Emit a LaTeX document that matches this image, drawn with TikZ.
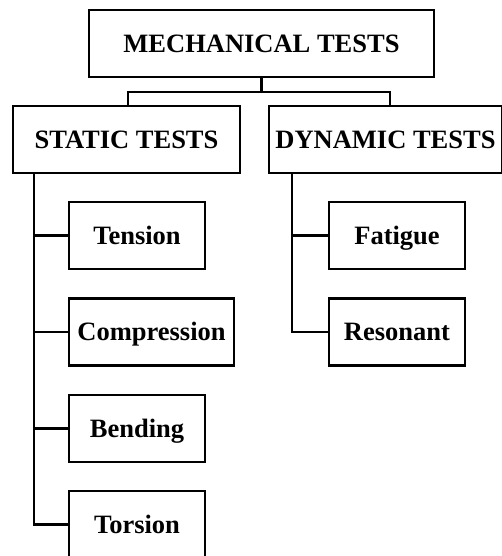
\documentclass[tikz,border=0pt]{standalone}
\usepackage{fontspec}
\setmainfont{Liberation Serif}
\usetikzlibrary{positioning}
\begin{document}
\begin{tikzpicture}
	[x=1pt,y=-1pt,%
	testbox/.style={rectangle, draw=black, line width=2.5pt, inner sep=0pt, minimum height=67pt, text height=17.5pt, text depth=0pt, font=\fontsize{26.5}{30}\selectfont\bfseries},%
	link/.style={line width=2.5pt},%
	]
	\useasboundingbox (0,0) rectangle (502,556);

	% nodes
	\node (mech)    at (261.5, 43.5) [testbox, minimum width=345pt] {MECHANICAL TESTS};
	\node (static)  at (126.5,139.5) [testbox, minimum width=227pt] {STATIC TESTS};
	\node (dynamic) at (385.5,139.5) [testbox, minimum width=233pt] {DYNAMIC TESTS};

	\node (tension)     at (137.0,235.5) [testbox, minimum width=136pt] {Tension};
	\node (compression) at (151.5,332.0) [testbox, minimum width=165pt] {Compression};
	\node (bending)     at (137.0,428.5) [testbox, minimum width=136pt] {Bending};
	\node (torsion)     at (137.0,524.5) [testbox, minimum width=136pt] {Torsion};

	\node (fatigue)  at (397.0,235.5) [testbox, minimum width=136pt] {Fatigue};
	\node (resonant) at (397.0,332.0) [testbox, minimum width=136pt] {Resonant};

	% interconnections
	\coordinate (split)  at (261.5,92);
	\coordinate (strunk) at ([xshift=22pt]static.south west);
	\coordinate (dtrunk) at ([xshift=24pt]dynamic.south west);

	\draw [link] (mech) -- (split);
	\draw [link] (split) -| ([xshift=1.5pt]static.north);
	\draw [link] (split) -| ([xshift=4.5pt]dynamic.north);

	\foreach \n in {tension,compression,bending,torsion} \draw [link] (strunk) |- (\n.west);
	\foreach \n in {fatigue,resonant} \draw [link] (dtrunk) |- (\n.west);

\end{tikzpicture}
\end{document}
